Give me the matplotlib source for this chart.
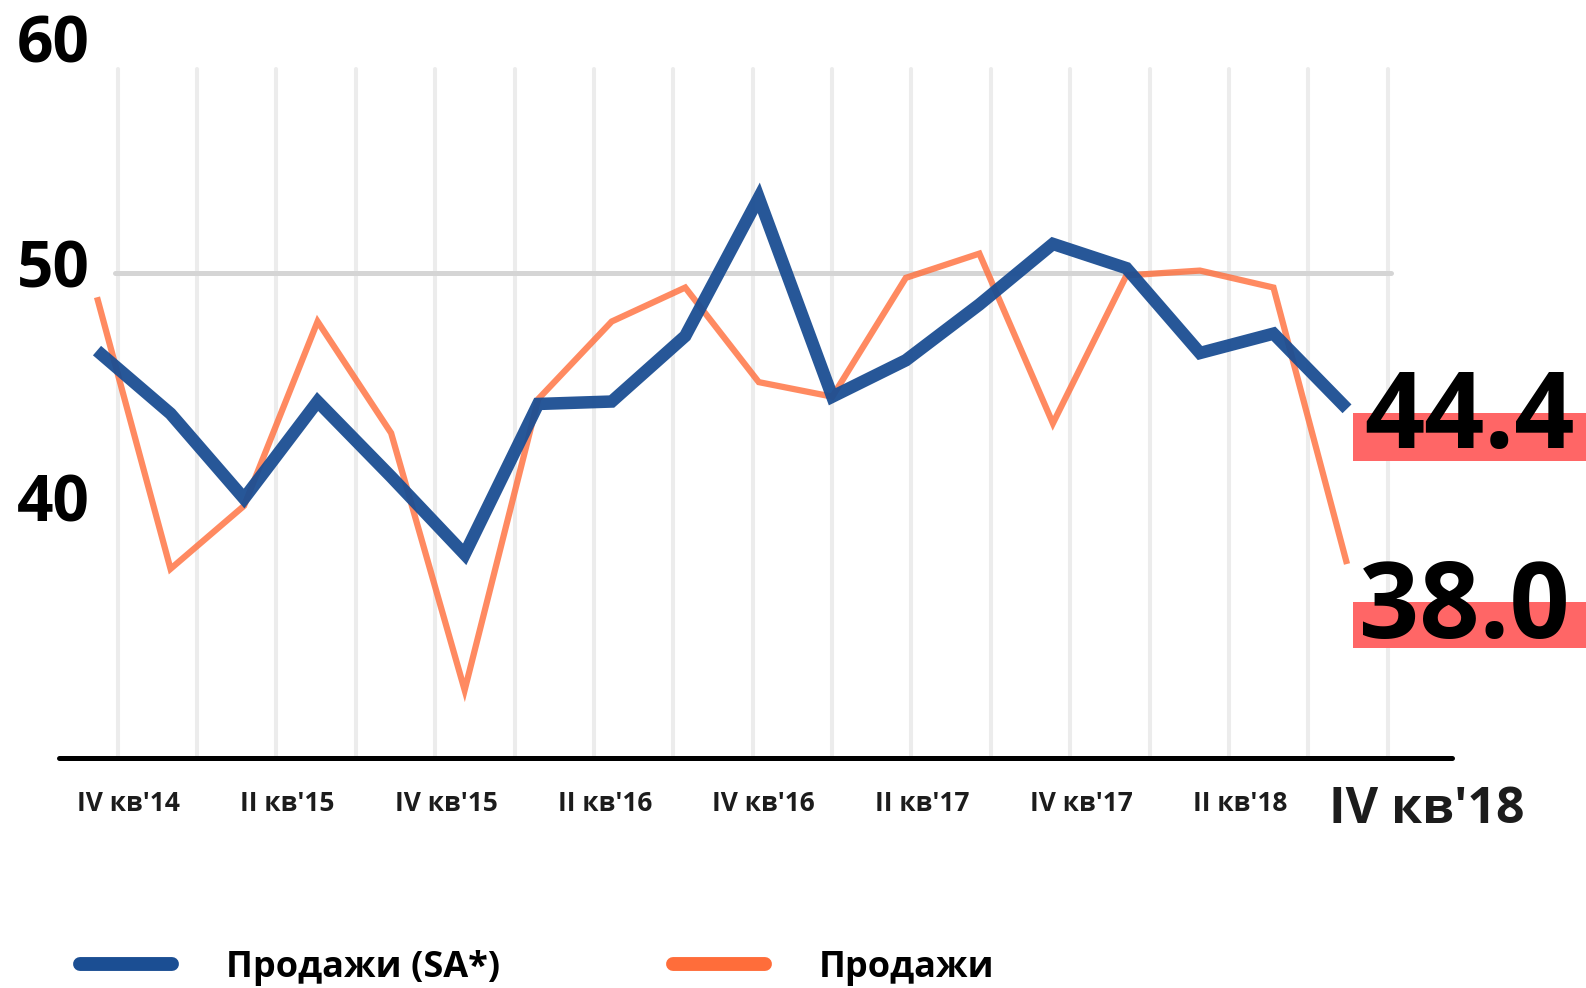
import matplotlib
matplotlib.use("Agg")
import matplotlib.pyplot as plt
from matplotlib.transforms import offset_copy
from matplotlib.lines import Line2D
from matplotlib.patches import Rectangle

# ---------------- data ----------------
categories = ["IV кв'14", "I кв'15", "II кв'15", "III кв'15", "IV кв'15",
              "I кв'16", "II кв'16", "III кв'16", "IV кв'16", "I кв'17",
              "II кв'17", "III кв'17", "IV кв'17", "I кв'18", "II кв'18",
              "III кв'18", "IV кв'18"]
sales_sa = [46.8, 44.2, 40.7, 44.7, 41.6, 38.4, 44.6, 44.7, 47.4, 53.1,
            44.9, 46.4, 48.7, 51.2, 50.2, 46.7, 47.5, 44.4]
sales = [49.0, 37.8, 40.4, 48.0, 43.4, 32.8, 44.8, 48.0, 49.4, 45.5,
         44.9, 49.8, 50.8, 43.8, 49.9, 50.1, 49.4, 38.0]
y_ticks = [40, 50, 60]
series_names = ["Продажи (SA*)", "Продажи"]
last_labels = ["44.4", "38.0"]

# ---------------- style ----------------
plt.rcParams['font.family'] = ['Open Sans', 'DejaVu Sans']
BLUE = '#1b4e93'
ORANGE = '#ff6d3a'
BOX = '#ff6666'

W, H = 1586, 988
fig = plt.figure(figsize=(W / 100, H / 100), dpi=100)

PPU = 24.25            # pixels per unit on y
Y_BOTTOM_PX, Y_TOP_PX = 758, 16
X_LEFT_PX, X_RIGHT_PX = 59, 1452
GRID0, GRIDSTEP = 117.5, 79.4
PT0, PTSTEP = 97.0, 73.53

ax = fig.add_axes([X_LEFT_PX / W, 1 - Y_BOTTOM_PX / H,
                   (X_RIGHT_PX - X_LEFT_PX) / W, (Y_BOTTOM_PX - Y_TOP_PX) / H])
ax.set_ylim(30, 30 + (Y_BOTTOM_PX - Y_TOP_PX) / PPU)
ax.set_xlim((X_LEFT_PX - GRID0) / GRIDSTEP, (X_RIGHT_PX - GRID0) / GRIDSTEP)

# vertical grid lines (one per quarter)
ax.vlines(range(len(categories)), 30, 58.4, colors='#ececec', lw=2.9,
          capstyle='round', zorder=1)
# reference line at 50
ax.hlines(50, -0.03, len(categories) - 1 + 0.04, colors='#d5d5d5', lw=3.6,
          capstyle='round', zorder=1.5)

for s in ['top', 'left', 'right']:
    ax.spines[s].set_visible(False)
ax.spines['bottom'].set_linewidth(3.6)
ax.spines['bottom'].set_color('black')
ax.spines['bottom'].set_capstyle('round')
ax.set_xticks([])
ax.set_yticks([])

# y labels
y_offsets = {40: -5.5, 50: -15, 60: -32.5}
for v in y_ticks:
    ax.text(0, v, str(v),
            transform=offset_copy(ax.get_yaxis_transform(), fig=fig,
                                  x=31, y=y_offsets[v], units='dots'),
            ha='right', va='baseline', fontsize=46, fontweight='bold',
            color='black', clip_on=False)

# x labels (every other quarter)
for j in range(0, len(categories), 2):
    last = j == len(categories) - 1
    ax.text(j, 0, categories[j],
            transform=offset_copy(ax.get_xaxis_transform(), fig=fig,
                                  x=39 if last else 11,
                                  y=-65 if last else -53, units='dots'),
            ha='center', va='baseline',
            fontsize=36 if last else 19, fontweight='bold',
            color='#1c1c1c', clip_on=False)

# series on their own x scale
ax2 = ax.twiny()
ax2.set_xlim((X_LEFT_PX - PT0) / PTSTEP, (X_RIGHT_PX - PT0) / PTSTEP)
ax2.axis('off')
xs = list(range(len(sales)))
ax2.plot(xs, sales, color=ORANGE, alpha=0.8, lw=4.5,
         solid_joinstyle='miter', solid_capstyle='butt', zorder=2)
ax2.plot(xs, sales_sa, color=BLUE, alpha=0.95, lw=9,
         solid_joinstyle='miter', solid_capstyle='butt', zorder=3)

# highlight boxes behind last values
for (y0, y1) in [(413, 461), (602, 648)]:
    ax2.add_patch(Rectangle((1353 / W, 1 - y1 / H), (W - 1353) / W, (y1 - y0) / H,
                            transform=fig.transFigure, facecolor=BOX,
                            edgecolor='none', clip_on=False, zorder=5))

last_i = len(sales) - 1
ax2.text(last_i, sales_sa[-1], last_labels[0],
         transform=offset_copy(ax2.transData, fig=fig, x=122, y=-39, units='dots'),
         ha='center', va='baseline', fontsize=76, fontweight='bold',
         color='black', zorder=6, clip_on=False)
ax2.text(last_i, sales[-1], last_labels[1],
         transform=offset_copy(ax2.transData, fig=fig, x=117, y=-74, units='dots'),
         ha='center', va='baseline', fontsize=76, fontweight='bold',
         color='black', zorder=6, clip_on=False)

# legend
FS = 26
fpx = FS * 100 / 72
for name, col, x0 in [(series_names[0], BLUE, 80), (series_names[1], ORANGE, 673)]:
    h = Line2D([], [], color=col, lw=10, solid_capstyle='round')
    fig.legend([h], [name], loc='center left',
               bbox_to_anchor=(x0 / W, 1 - 968 / H), frameon=False,
               prop={'size': FS, 'weight': 'bold'},
               handlelength=92 / fpx, handletextpad=54 / fpx,
               borderpad=0, borderaxespad=0)

fig.savefig('out.png', dpi=100)
